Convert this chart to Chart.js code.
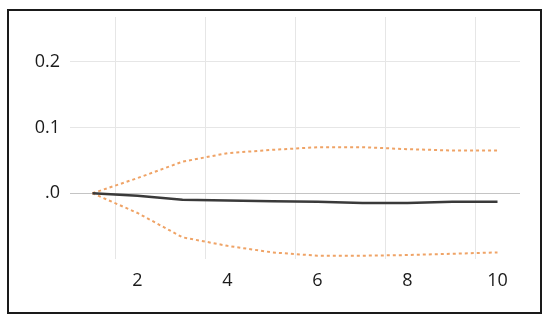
<!DOCTYPE html>
<html>
<head>
<meta charset="utf-8">
<script src="https://cdn.jsdelivr.net/npm/chart.js@4"></script>
<style>
  html, body { margin: 0; padding: 0; background: #fff; }
  #wrap { width: 550px; height: 322px; position: relative; }
</style>
</head>
<body>
<div id="wrap"><canvas id="myChart" width="550" height="322"></canvas></div>
<script>
// periodes et reponses
const periods = [1, 2, 3, 4, 5, 6, 7, 8, 9, 10];
const response = [0, -0.004, -0.010, -0.011, -0.012, -0.013, -0.015, -0.015, -0.013, -0.013];
const upperBand = [0, 0.023, 0.048, 0.061, 0.066, 0.070, 0.070, 0.067, 0.065, 0.065];
const lowerBand = [0, -0.030, -0.067, -0.080, -0.090, -0.095, -0.095, -0.094, -0.092, -0.090];
const yTicks = [0, 0.1, 0.2];
const yTickLabels = [".0", "0.1", "0.2"];

// cadre noir autour du graphique
const framePlugin = {
  id: "frame",
  afterDraw(chart) {
    const ctx = chart.ctx;
    ctx.save();
    ctx.strokeStyle = "#1a1a1a";
    ctx.lineWidth = 2;
    ctx.strokeRect(8, 10, 533, 303);
    ctx.restore();
  },
};

function drawChart() {
  const bandStyle = {
    borderColor: "#EFA366",
    borderWidth: 2,
    borderDash: [3, 3],
    pointRadius: 0,
    tension: 0,
    fill: false,
  };

  const chartData = {
    labels: periods.map(String),
    datasets: [
      { label: "response", data: response, borderColor: "#3a3a3a", borderWidth: 2.5, pointRadius: 0, tension: 0, fill: false },
      Object.assign({ label: "upper", data: upperBand }, bandStyle),
      Object.assign({ label: "lower", data: lowerBand }, bandStyle),
    ],
  };

  const font = { family: "'Open Sans', 'DejaVu Sans', sans-serif", size: 18 };

  const chartOptions = {
    responsive: false,
    animation: false,
    layout: { padding: { left: 0, right: 30, top: 17, bottom: 18 } },
    plugins: { legend: { display: false }, tooltip: { enabled: false } },
    scales: {
      x: {
        type: "category",
        offset: true,
        border: { display: false },
        grid: {
          offset: true,
          drawTicks: false,
          color: (c) => (c.index % 2 === 1 ? "#e6e6e6" : "rgba(0,0,0,0)"),
        },
        ticks: {
          autoSkip: false,
          maxRotation: 0,
          padding: 11,
          color: "#1a1a1a",
          font: font,
          callback: (v, i) => ((i + 1) % 2 === 0 ? String(periods[i]) : ""),
        },
        afterFit: (s) => { s.height = 45; s.paddingLeft = 0; s.paddingRight = 0; },
      },
      y: {
        min: -0.1,
        max: 0.268,
        border: { display: false },
        grid: {
          drawTicks: false,
          color: (c) => (c.tick && c.tick.value === 0 ? "#c4c4c4" : "#e6e6e6"),
        },
        afterBuildTicks: (s) => { s.ticks = yTicks.map((v) => ({ value: v })); },
        ticks: {
          padding: 10,
          color: "#1a1a1a",
          font: font,
          callback: (v) => yTickLabels[yTicks.indexOf(v)],
        },
        afterFit: (s) => { s.width = 70; s.paddingTop = 0; s.paddingBottom = 0; },
      },
    },
  };

  const ctx = document.getElementById("myChart").getContext("2d");
  const myChart = new Chart(ctx, {
    type: "line",
    data: chartData,
    options: chartOptions,
    plugins: [framePlugin],
  });
}

drawChart();
</script>
</body>
</html>
